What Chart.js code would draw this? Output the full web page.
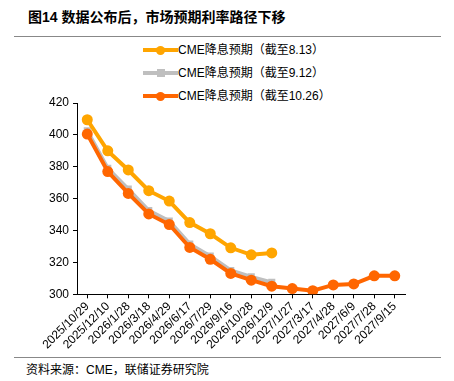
<!DOCTYPE html>
<html><head><meta charset="utf-8">
<script src="https://cdn.jsdelivr.net/npm/chart.js@4"></script>
<style>
html,body{margin:0;padding:0;background:#fff;}
body{width:454px;height:381px;position:relative;overflow:hidden;font-family:"Liberation Sans","Noto Sans CJK SC",sans-serif;}
#title{position:absolute;left:28px;top:6px;font-size:14px;font-weight:bold;color:#000;font-family:"Liberation Sans","Noto Sans CJK SC",sans-serif;white-space:nowrap;}
#hl1{position:absolute;left:14px;top:36px;width:427px;height:1px;background:#888;}
#hl2{position:absolute;left:14px;top:357px;width:427px;height:1px;background:#888;}
#src{position:absolute;left:26px;top:360px;font-size:12px;color:#000;white-space:nowrap;}
#wrap{position:absolute;left:0;top:90px;width:454px;height:266px;}
.leg{position:absolute;left:143px;height:14px;font-size:12px;color:#000;white-space:nowrap;}
.leg .ln{position:absolute;left:0;top:6px;width:35px;height:4px;}
.leg .mk{position:absolute;}
.leg .tx{position:absolute;left:35px;top:0;line-height:16px;}
</style></head>
<body>
<div id="title">图14 数据公布后，市场预期利率路径下移</div>
<div id="hl1"></div>
<div id="legend"></div>
<div id="wrap"><canvas id="c"></canvas></div>
<div id="hl2"></div>
<div id="src">资料来源：CME，联储证券研究院</div>
<script>
const categories = ["2025/10/29","2025/12/10","2026/1/28","2026/3/18","2026/4/29","2026/6/17","2026/7/29","2026/9/16","2026/10/28","2026/12/9","2027/1/27","2027/3/17","2027/4/28","2027/6/9","2027/7/28","2027/9/15"];
const seriesNames = ["CME降息预期（截至8.13）","CME降息预期（截至9.12）","CME降息预期（截至10.26）"];
const asOf0813 = [409.5,390,378,365,358.5,345,338,329.2,324.8,326,null,null,null,null,null,null];
const asOf0912 = [402.5,379,366,352.5,346,331.5,324,315,311,307.5,null,null,null,null,null,null];
const asOf1026 = [400.5,377,363.3,350.4,343.8,329.4,322,313.1,308.9,305.1,303.6,302.3,305.9,306.5,311.6,311.6];
const yTicks = [300,320,340,360,380,400,420];
const colors = ["#FFA500","#BFBFBF","#FF6600"];
const markers = ["circle","rect","circle"];

// HTML legend
const legTops = [42,65,88];
const legend = document.getElementById('legend');
seriesNames.forEach((n,i)=>{
  const d = document.createElement('div'); d.className='leg'; d.style.top=legTops[i]+'px';
  const ln = document.createElement('div'); ln.className='ln'; ln.style.background=colors[i]; d.appendChild(ln);
  const mk = document.createElement('div'); mk.className='mk'; mk.style.background=colors[i];
  if(markers[i]==='circle'){mk.style.width='9px';mk.style.height='9px';mk.style.borderRadius='50%';mk.style.left='13px';mk.style.top='3.5px';}
  else {mk.style.width='8px';mk.style.height='8px';mk.style.left='13.5px';mk.style.top='4px';}
  d.appendChild(mk);
  const tx = document.createElement('div'); tx.className='tx'; tx.textContent=n; d.appendChild(tx);
  legend.appendChild(d);
});

const mk = (i,data,order)=>({label:seriesNames[i],data:data,borderColor:colors[i],backgroundColor:colors[i],
  borderWidth:4,pointStyle:markers[i],pointRadius:markers[i]==='rect'?5:5.5,pointBorderWidth:0,
  pointBackgroundColor:colors[i],tension:0,spanGaps:false,order:order});

new Chart(document.getElementById('c'),{
  type:'line',
  data:{labels:categories,datasets:[mk(0,asOf0813,0),mk(1,asOf0912,2),mk(2,asOf1026,1)]},
  options:{
    responsive:true,maintainAspectRatio:false,animation:false,devicePixelRatio:1,
    layout:{padding:{left:45,right:49,top:13,bottom:3}},
    plugins:{legend:{display:false},tooltip:{enabled:false}},
    scales:{
      x:{offset:true,
        grid:{display:true,drawOnChartArea:false,drawTicks:true,tickLength:4,color:'#000'},
        border:{display:true,color:'#000',width:1},
        ticks:{color:'#000',font:{family:"Liberation Sans",size:12},maxRotation:45,minRotation:45,autoSkip:false,padding:1}},
      y:{min:300,max:420,
        afterBuildTicks:(s)=>{s.ticks=yTicks.map(v=>({value:v}));},
        grid:{display:true,drawOnChartArea:false,drawTicks:true,tickLength:4,color:'#000'},
        border:{display:true,color:'#000',width:1},
        ticks:{color:'#000',font:{family:"Liberation Sans",size:12},padding:4}}
    }
  }
});
</script>
</body></html>
